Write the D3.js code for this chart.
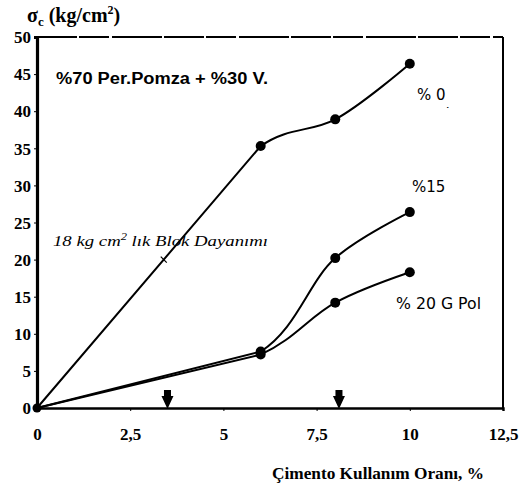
<!DOCTYPE html>
<html><head><meta charset="utf-8">
<script src="https://cdn.jsdelivr.net/npm/d3@7"></script>
<style>body{margin:0;background:#fff}svg{display:block}</style>
</head><body>
<svg id="c" width="520" height="490"></svg>
<script>
const xValues = [0, 6, 8, 10];
const series0 = [0, 35.3, 38.9, 46.4];
const series15 = [0, 7.6, 20.2, 26.4];
const series20 = [0, 7.2, 14.2, 18.3];
const seriesNames = ["% 0", "%15", "% 20 G Pol"];
const xTicks = [0, 2.5, 5, 7.5, 10, 12.5];
const xTickLabels = ["0", "2,5", "5", "7,5", "10", "12,5"];
const yTicks = [0, 5, 10, 15, 20, 25, 30, 35, 40, 45, 50];
const arrowX = [3.5, 8.1];
const markX = 3.4;

const svg = d3.select("#c");
const x = d3.scaleLinear().domain([0, 12.5]).range([37, 503]);
const y = d3.scaleLinear().domain([0, 50]).range([408, 37]);

// clip regions (left of first measured point: straight; right: smooth)
const defs = svg.append("defs");
defs.append("clipPath").attr("id", "cLeft").append("rect")
  .attr("x", 0).attr("y", 0).attr("width", x(xValues[1])).attr("height", 490);
defs.append("clipPath").attr("id", "cRight").append("rect")
  .attr("x", x(xValues[1])).attr("y", 0).attr("width", 520).attr("height", 490);

// frame
svg.append("line").attr("x1", x(0)).attr("x2", x(12.5)).attr("y1", y(50)).attr("y2", y(50))
  .attr("stroke", "#000").attr("stroke-width", 2.2).attr("stroke-dasharray", "40 2 30 3 50 2");
svg.append("line").attr("x1", x(12.5)).attr("x2", x(12.5)).attr("y1", y(50)).attr("y2", y(0))
  .attr("stroke", "#000").attr("stroke-width", 2);

// axes
const yAxis = d3.axisLeft(y).tickValues(yTicks).tickSize(3).tickPadding(3).tickFormat(d3.format("d"));
const gy = svg.append("g").attr("transform", `translate(${x(0)},0)`).call(yAxis);
gy.attr("font-family", "Liberation Serif").attr("font-size", 17).attr("font-weight", "bold");
gy.select(".domain").attr("stroke-width", 3.2);
gy.selectAll(".tick text").attr("fill", "#000").attr("dy", "0.34em");

const xAxis = d3.axisBottom(x).tickValues(xTicks).tickSize(3).tickPadding(17).tickFormat((d, i) => xTickLabels[i]);
const gx = svg.append("g").attr("transform", `translate(0,${y(0)})`).call(xAxis);
gx.attr("font-family", "Liberation Serif").attr("font-size", 17).attr("font-weight", "bold");
gx.select(".domain").attr("stroke-width", 2.4);
gx.selectAll(".tick text").attr("fill", "#000");

// lines: straight first segment, smooth afterwards
const lineStraight = d3.line().x(d => x(d[0])).y(d => y(d[1]));
const lineSmooth = d3.line().x(d => x(d[0])).y(d => y(d[1])).curve(d3.curveCatmullRom.alpha(0.5));
[series0, series15, series20].forEach(s => {
  const pts = s.map((v, i) => [xValues[i], v]);
  svg.append("path").attr("d", lineStraight(pts)).attr("clip-path", "url(#cLeft)").attr("fill", "none")
    .attr("stroke", "#000").attr("stroke-width", 2);
  svg.append("path").attr("d", lineSmooth(pts)).attr("clip-path", "url(#cRight)").attr("fill", "none")
    .attr("stroke", "#000").attr("stroke-width", 2);
  svg.selectAll(null).data(pts.slice(1)).enter().append("circle")
    .attr("cx", d => x(d[0])).attr("cy", d => y(d[1])).attr("r", 5).attr("fill", "#000");
});
svg.append("circle").attr("cx", x(0)).attr("cy", y(0)).attr("r", 4.5).attr("fill", "#000");

// arrows
arrowX.forEach(v => {
  const cx = x(v), by = y(0);
  svg.append("path")
    .attr("d", `M${cx - 3.5},${by - 18} L${cx + 3.5},${by - 18} L${cx + 3.5},${by - 12} L${cx + 6},${by - 12} L${cx},${by + 1} L${cx - 6},${by - 12} L${cx - 3.5},${by - 12} Z`)
    .attr("fill", "#000");
});

// mark on the %0 line
const markY = series0[1] * markX / xValues[1];
svg.append("line").attr("x1", x(markX) - 3).attr("x2", x(markX) + 3)
  .attr("y1", y(markY) - 3).attr("y2", y(markY) + 3).attr("stroke", "#000").attr("stroke-width", 1.2);

// texts
svg.append("text").attr("x", 27).attr("y", 22).attr("font-family", "Liberation Serif")
  .attr("font-size", 20).attr("font-weight", "bold")
  .html('σ<tspan font-size="13" dy="4">c</tspan><tspan dy="-4"> (kg/cm</tspan><tspan font-size="12" dy="-8">2</tspan><tspan dy="8">)</tspan>');

svg.append("text").attr("x", 56).attr("y", 84).attr("font-family", "Liberation Sans")
  .attr("font-size", 16).attr("font-weight", "bold").attr("textLength", 212).attr("lengthAdjust", "spacingAndGlyphs")
  .text("%70 Per.Pomza + %30 V.");

svg.append("text").attr("x", 53).attr("y", 246).attr("font-family", "Liberation Serif")
  .attr("font-size", 15).attr("font-style", "italic").attr("textLength", 215).attr("lengthAdjust", "spacingAndGlyphs")
  .html('18 kg cm<tspan font-size="10" dy="-6">2</tspan><tspan dy="6"> lık Blok Dayanımı</tspan>');

svg.append("text").attr("x", 417).attr("y", 100).attr("font-family", "DejaVu Sans")
  .attr("font-size", 15).text(seriesNames[0]);
// partially hidden second label line
svg.append("clipPath").attr("id", "cl").append("rect").attr("x", 400).attr("y", 104).attr("width", 60).attr("height", 4);
svg.append("text").attr("x", 414).attr("y", 118).attr("font-family", "DejaVu Sans")
  .attr("font-size", 14).attr("clip-path", "url(#cl)").text("G Pol");

svg.append("text").attr("x", 412).attr("y", 192).attr("font-family", "DejaVu Sans")
  .attr("font-size", 15).text(seriesNames[1]);
svg.append("text").attr("x", 396).attr("y", 309).attr("font-family", "DejaVu Sans")
  .attr("font-size", 15).attr("textLength", 85).attr("lengthAdjust", "spacingAndGlyphs").text(seriesNames[2]);

svg.append("text").attr("x", 272).attr("y", 479).attr("font-family", "Liberation Serif")
  .attr("font-size", 16).attr("font-weight", "bold").attr("textLength", 212).attr("lengthAdjust", "spacingAndGlyphs")
  .text("Çimento Kullanım Oranı, %");
</script>
</body></html>
